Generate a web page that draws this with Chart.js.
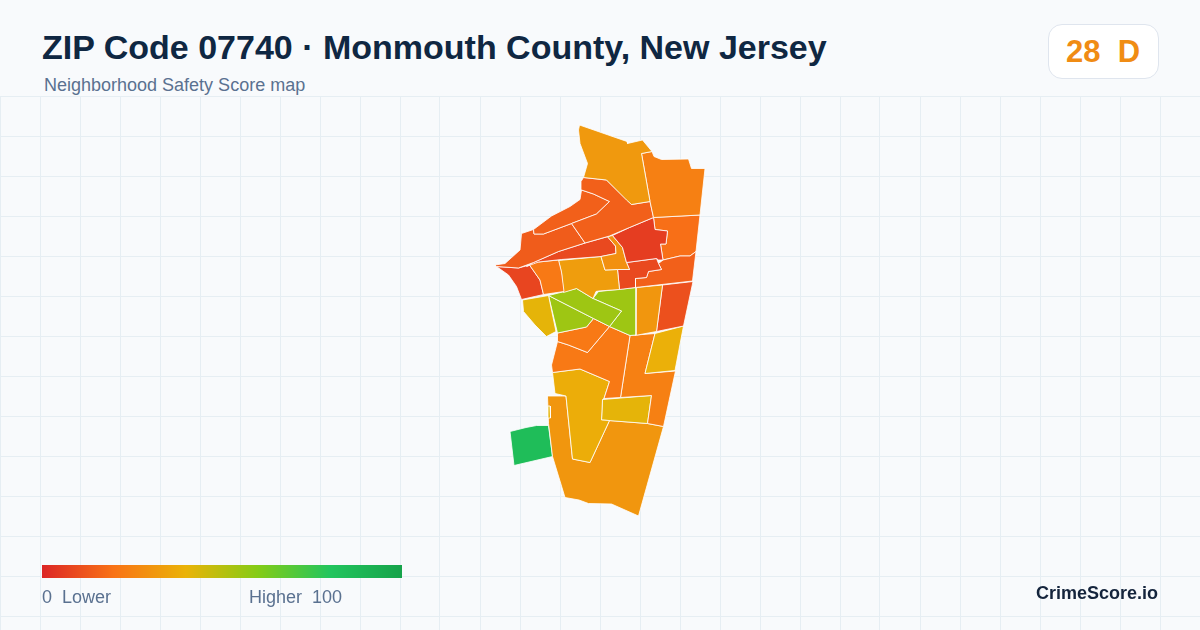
<!DOCTYPE html>
<html>
<head>
  <title>ZIP Code 07740 Safety Score map</title>
  <style>
    html, body { margin: 0; padding: 0; }
    body {
      width: 1200px;
      height: 630px;
      overflow: hidden;
      position: relative;
      background: #f8fafc;
      font-family: "Liberation Sans", Arial, sans-serif;
    }
    #wrap { position: absolute; left: 0; top: 96px; width: 1200px; height: 534px; }
    .txt { position: absolute; white-space: pre; line-height: 1; }
    #title { left: 42px; top: 30px; font-size: 34px; font-weight: 700; color: #0f2742; }
    #subtitle { left: 44px; top: 76px; font-size: 18px; color: #5a7190; }
    #badge {
      position: absolute; left: 1048px; top: 24px; width: 109px; height: 53px;
      background: #ffffff; border: 1px solid #dfe5ee; border-radius: 14px;
    }
    #badgeText { left: 1066px; top: 36px; font-size: 31px; font-weight: 700; color: #f08c14; }
    #ramp {
      position: absolute; left: 42px; top: 565px; width: 360px; height: 13px;
      background: linear-gradient(90deg, #dc2626 0%, #f97316 20%, #eab308 40%, #84cc16 60%, #22c55e 80%, #16a34a 100%);
    }
    #lowLabel { left: 42px; top: 588px; font-size: 18px; color: #5a7190; }
    #highLabel { left: 249px; top: 588px; font-size: 18px; color: #5a7190; }
    #brand { left: 1036px; top: 584px; font-size: 18px; font-weight: 700; color: #14243c; }
  </style>
</head>
<body>
  <div id="wrap"><canvas id="map" width="1200" height="534"></canvas></div>
  <div class="txt" id="title">ZIP Code 07740 · Monmouth County, New Jersey</div>
  <div class="txt" id="subtitle">Neighborhood Safety Score map</div>
  <div id="badge"></div>
  <div class="txt" id="badgeText">28  D</div>
  <div id="ramp"></div>
  <div class="txt" id="lowLabel">0  Lower</div>
  <div class="txt" id="highLabel">Higher  100</div>
  <div class="txt" id="brand">CrimeScore.io</div>

  <script src="https://cdn.jsdelivr.net/npm/chart.js"></script>
  <script>
    // neighborhood outlines in map units (x east, y north)
    const north = [[99.5,405],[147,388.5],[147.5,386.5],[162.5,390],[172,378.5],[161.5,376.5],[170,328.5],[151.5,325.5],[146.5,330],[126.5,350],[103.5,352.5],[107.5,366.5],[100,386.5],[98.5,400]];
    const eastUpper = [[161.5,376.5],[172,378.5],[174,373.5],[181.5,370.5],[208.5,371],[211.5,361.5],[225,361.5],[220,315],[173.5,312.5],[170,328.5]];
    const bandNorth = [[103.5,352.5],[126.5,350],[151.5,325.5],[170,328.5],[173.5,312.5],[149.5,302.5],[129.5,294],[105,287],[91.5,306.5],[116.5,316],[129.5,328.5],[113.5,336],[101.5,340],[101,348.5]];
    const bandInner = [[101.5,340],[113.5,336],[129.5,328.5],[116.5,316],[91.5,306.5],[63.5,296],[54,296],[53.5,300.5],[71.5,314],[90,323.5],[100,330.5]];
    const westBand = [[15,265],[25,266.5],[40,280],[41.5,296.5],[53.5,300.5],[54,296],[63.5,296],[91.5,306.5],[105,287],[78.5,278.5],[53.5,267.5],[38.5,262],[16.5,263.5]];
    const centreRed = [[173.5,312.5],[175,300.5],[187.5,299],[186,286],[180.5,286],[183,270],[178.5,270],[176.5,271.5],[146.5,267.5],[142.5,282.5],[132.5,294.5],[149.5,302.5]];
    const centreSmall = [[127.5,293.3],[132.5,294.5],[142.5,282.5],[146.5,267.5],[149.5,260.5],[137.5,260.5],[125,260],[121,273.5],[136,276.5],[135.5,284]];
    const redBand = [[46.5,263.5],[53.5,267.5],[78.5,278.5],[105,287],[127.5,293.3],[135.5,284],[136,276.5],[121,273.5],[81.5,270.5],[58.5,268]];
    const westOrange = [[49.5,265],[60,250],[63.5,235.5],[84,238.5],[81.5,258],[78.5,270],[53.5,267.5]];
    const westRed = [[16.5,263.5],[38.5,262],[49.5,265],[60,250],[63.5,235.5],[41.5,230.5],[36.5,243.5],[28.5,255]];
    const midOrange = [[78.5,269.5],[121,273.5],[125,260],[137.5,260.5],[139.5,240.5],[118.5,239],[116,238.5],[113,231.5],[96.5,241.5],[83.5,237.5],[81.5,257]];
    const stepRed = [[146.5,267.5],[176.5,271.5],[178.5,266.5],[181.5,260.5],[168.5,258.5],[166.5,252.5],[155.5,251.5],[155.5,242.5],[139.5,240.5],[137.5,260.5],[149.5,260.5]];
    const eastMid = [[155.5,251.5],[166.5,252.5],[168.5,258.5],[181.5,260.5],[178.5,266.5],[183,270],[200,274],[210,274],[216,278.5],[212.5,249],[155.5,242.5]];
    const eastLower = [[173.5,312.5],[220,315],[216,278.5],[210,274],[200,274],[183,270],[180.5,286],[186,286],[187.5,299],[175,300.5]];
    const yellowWest = [[42.5,230],[68.5,234.5],[76,198.5],[66.5,193.5],[55,205],[43.5,218.5]];
    const greenA = [[68.5,234.5],[96.5,241.5],[113,231.5],[141.5,219],[129.5,203.5],[113.5,211.5]];
    const greenB = [[68.5,234.5],[113.5,211.5],[106.5,203],[77.5,197]];
    const greenC = [[113,231.5],[118.5,238.5],[156,242.5],[156,195],[150,194.5],[129.5,203.5],[141.5,219]];
    const midEast = [[156,242.5],[182.5,245],[176.5,198.5],[155,194.5]];
    const redEast = [[182.5,245],[213,248.5],[203.5,204],[176.5,198.5]];
    const yellowEast = [[175,196.5],[203.5,204],[195,159.5],[165,156.5]];
    const lowerSmall = [[77.5,197],[106.5,203],[113.5,211.5],[129.5,203.5],[107.5,177.5],[88.5,185],[77.5,188.5]];
    const lowerWide = [[77.5,188.5],[88.5,185],[107.5,177.5],[129.5,203.5],[150,194.5],[140.5,132.5],[124,131.5],[129.5,148.5],[100,161],[72.5,157.5],[71.5,165]];
    const lowerEast = [[150,194.5],[175,196.5],[165,156.5],[195.5,159],[183.5,103.5],[167.5,106.5],[171.5,134.5],[140.5,132.5]];
    const yellowBox = [[122.5,130.5],[171.5,134.5],[167.5,106.5],[121.5,110]];
    const yellowLong = [[72.5,157.5],[100,161],[129.5,148.5],[124,131.5],[122.5,130.5],[121.5,110],[129.5,109.5],[110,67.5],[92.5,71],[86,134],[75,136.5]];
    const south = [[67.5,134],[86,134],[92.5,71],[110,67.5],[129.5,109.5],[167.5,106.5],[183.5,103.5],[158.5,14],[131.5,26],[108.5,26.5],[99,30],[85,32.5],[72.5,73.5],[68.5,106.5]];
    const sliver = [[68,124],[70,124],[70.5,112],[68.5,112]];
    const greenPatch = [[30,98.5],[46,102.5],[56.5,104.5],[68.5,104.5],[72.5,73.5],[34,64.5]];
    const greenSpeck = [[56.5,302.5],[60.5,305],[58,301]];

    const regions = [north, eastUpper, bandNorth, bandInner, westBand, centreRed, centreSmall, redBand,
      westOrange, westRed, midOrange, stepRed, eastMid, eastLower, yellowWest, greenA, greenB, greenC,
      midEast, redEast, yellowEast, lowerSmall, lowerWide, lowerEast, sliver, yellowLong, yellowBox, south,
      greenPatch, greenSpeck];
    const scores = [32, 24, 15, 15, 14, 6, 29, 9,
      22, 8, 33, 9, 15, 19, 41, 55, 55, 55,
      31, 11, 39, 22, 22, 24, 41, 38, 41, 31,
      85, 85];

    // same ramp as the legend bar
    const rampStops = [0, 20, 40, 60, 80, 100];
    const rampColors = [[220,38,38],[249,115,22],[234,179,8],[132,204,22],[34,197,94],[22,163,74]];

    function scoreColor(score) {
      let i = 0;
      while (i < rampStops.length - 2 && score > rampStops[i + 1]) i++;
      const t = (score - rampStops[i]) / (rampStops[i + 1] - rampStops[i]);
      const rgb = rampColors[i].map((c, k) => Math.round(c + (rampColors[i + 1][k] - c) * t));
      return 'rgb(' + rgb.join(',') + ')';
    }

    const datasets = regions.map((outline, i) => {
      const pts = outline.map((p) => ({ x: p[0], y: p[1] }));
      pts.push(pts[0]);
      return {
        data: pts,
        showLine: true,
        fill: 'shape',
        backgroundColor: scoreColor(scores[i]),
        borderColor: '#ffffff',
        borderWidth: 0.8,
        borderJoinStyle: 'round',
        pointRadius: 0,
        tension: 0
      };
    });

    new Chart(document.getElementById('map').getContext('2d'), {
      type: 'scatter',
      data: { datasets: datasets },
      options: {
        responsive: false,
        animation: false,
        events: [],
        layout: { padding: 0 },
        plugins: { legend: { display: false }, tooltip: { enabled: false } },
        scales: {
          x: {
            min: -480, max: 720,
            ticks: { display: false, stepSize: 40 },
            grid: { color: '#e6eef3', drawTicks: false },
            border: { display: false }
          },
          y: {
            min: -100, max: 434,
            afterBuildTicks: (axis) => {
              const ticks = [];
              for (let v = 433.5; v > -100; v -= 40) ticks.push({ value: v });
              axis.ticks = ticks;
            },
            ticks: { display: false },
            grid: { color: '#e6eef3', drawTicks: false },
            border: { display: false }
          }
        }
      }
    });
  </script>
</body>
</html>
